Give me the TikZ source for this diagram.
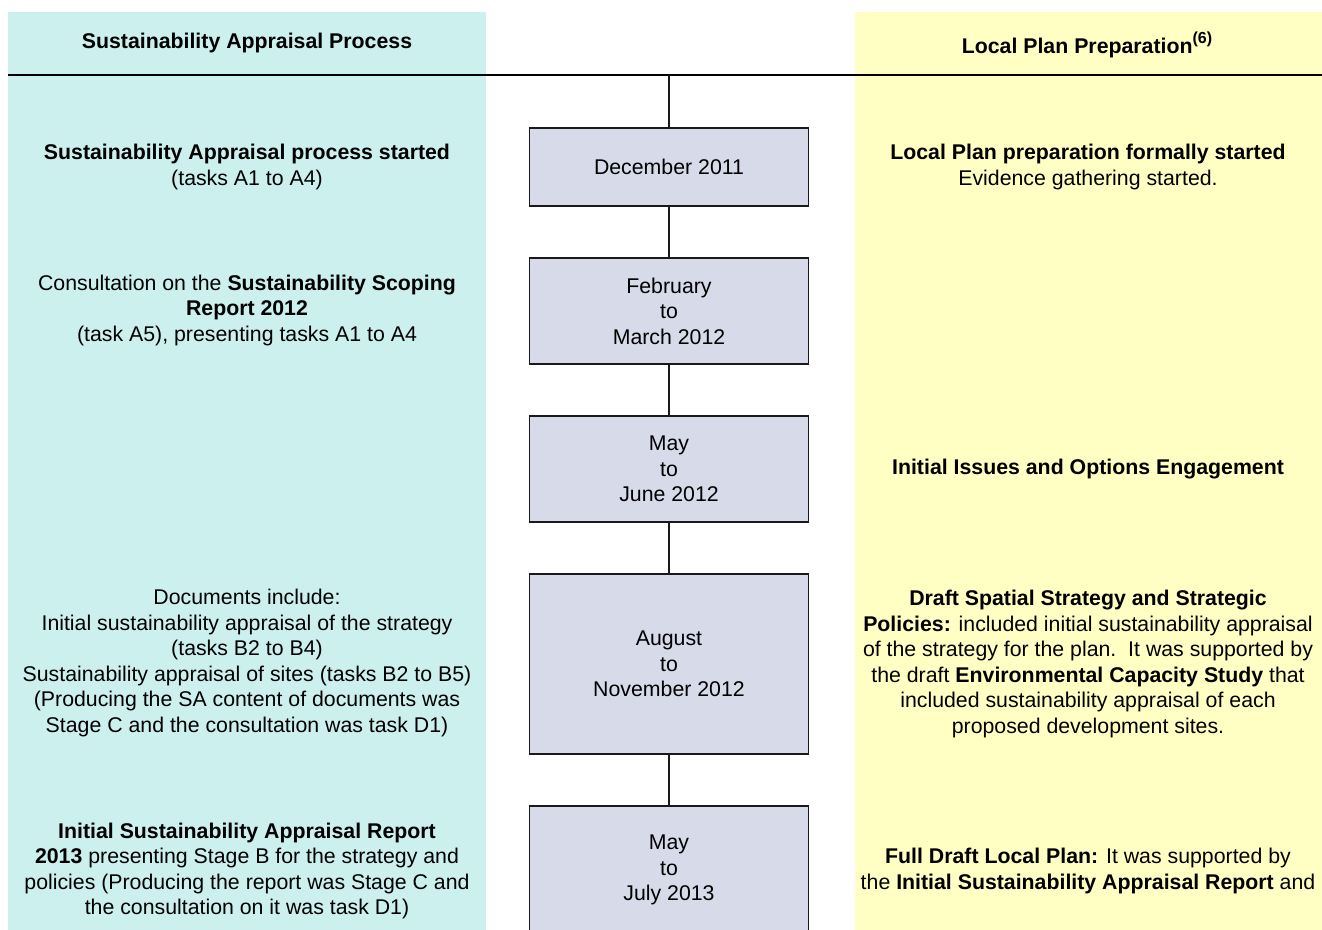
\documentclass[tikz,border=0pt]{standalone}
\usepackage{fontspec}
\setmainfont{Liberation Sans}
\usepackage{xcolor}
\usetikzlibrary{positioning,calc}

\definecolor{sapanel}{HTML}{CCF0EE}
\definecolor{lppanel}{HTML}{FFFFC4}
\definecolor{datefill}{HTML}{D7DAE8}

\begin{document}
\begin{tikzpicture}[x=1pt,y=-1pt]
  \tikzset{datebox/.style={draw=black!90,line width=1.8pt,fill=datefill,minimum width=279pt,align=center,inner sep=0pt,font=\fontsize{21.3}{25.5}\selectfont}}
  \tikzset{sidetext/.style={align=center,inner sep=0pt,font=\fontsize{21.3}{25.5}\selectfont}}
  \tikzset{timeline/.style={line width=1.8pt,black!90}}
  \useasboundingbox (0,0) rectangle (1322,929);
  \clip (0,0) rectangle (1322,929);

  % panels
  \fill[sapanel] (8,12) rectangle (486,935);
  \fill[lppanel] (855,12) rectangle (1322,935);
  \node[sidetext] (sahead) at (247,43) {\textbf{Sustainability Appraisal Process}};
  \node[sidetext] (lphead) at (1087,45) {\textbf{Local Plan Preparation\raisebox{0.5em}{\fontsize{16}{16}\selectfont(6)}}};
  \draw[line width=2.5pt] (8,75) -- (1322,75);
  \coordinate (top) at (669,75);

  % dates
  \node[datebox,minimum height=78pt] (dec11) at (669,167) {December 2011};
  \node[datebox,minimum height=106pt] (feb12) at (669,311) {February\\to\\March 2012};
  \node[datebox,minimum height=106pt] (may12) at (669,469) {May\\to\\June 2012};
  \node[datebox,minimum height=180pt] (aug12) at (669,664) {August\\to\\November 2012};
  \node[datebox,minimum height=128pt] (may13) at (669,870) {May\\to\\July 2013};

  \draw[timeline] (top) -- (dec11);
  \draw[timeline] (dec11) -- (feb12);
  \draw[timeline] (feb12) -- (may12);
  \draw[timeline] (may12) -- (aug12);
  \draw[timeline] (aug12) -- (may13);

  % sustainability appraisal side
  \node[sidetext] (sa1) at (247,167) {\textbf{Sustainability Appraisal process started}\\(tasks A1 to A4)};
  \node[sidetext] (sa2) at (247,310) {Consultation on the \textbf{Sustainability Scoping}\\\textbf{Report 2012}\\(task A5), presenting tasks A1 to A4};
  \node[sidetext] (sa3) at (247,663) {Documents include:\\Initial sustainability appraisal of the strategy\\(tasks B2 to B4)\\Sustainability appraisal of sites (tasks B2 to B5)\\(Producing the SA content of documents was\\Stage C and the consultation was task D1)};
  \node[sidetext] (sa4) at (247,871) {\textbf{Initial Sustainability Appraisal Report}\\\textbf{2013} presenting Stage B for the strategy and\\policies (Producing the report was Stage C and\\the consultation on it was task D1)};

  % local plan side
  \node[sidetext] (lp1) at (1088,167) {\textbf{Local Plan preparation formally started}\\Evidence gathering started.};
  \node[sidetext] (lp2) at (1088,469) {\textbf{Initial Issues and Options Engagement}};
  \node[sidetext] (lp3) at (1088,664) {\textbf{Draft Spatial Strategy and Strategic}\\\textbf{Policies:} included initial sustainability appraisal\\of the strategy for the plan.\ \ It was supported by\\the draft \textbf{Environmental Capacity Study} that\\included sustainability appraisal of each\\proposed development sites.};
  \node[sidetext] (lp4) at (1088,871) {\textbf{Full Draft Local Plan:} It was supported by\\the \textbf{Initial Sustainability Appraisal Report} and};
\end{tikzpicture}
\end{document}
